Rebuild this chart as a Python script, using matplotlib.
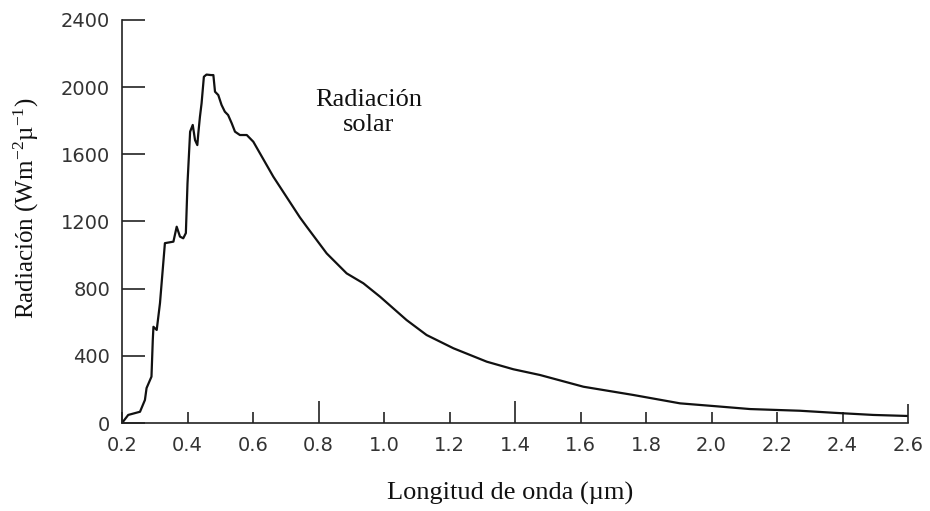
import matplotlib
matplotlib.use('Agg')
import matplotlib.pyplot as plt

# solar spectrum
wavelength = [0.200, 0.219, 0.255, 0.270, 0.275, 0.290, 0.294, 0.296, 0.306, 0.316,
              0.321, 0.331, 0.357, 0.367, 0.377, 0.387, 0.395, 0.400, 0.408, 0.416,
              0.423, 0.430, 0.433, 0.438, 0.443, 0.450, 0.458, 0.472, 0.479, 0.484,
              0.494, 0.504, 0.514, 0.524, 0.535, 0.545, 0.560, 0.581, 0.601, 0.662,
              0.743, 0.764, 0.825, 0.886, 0.937, 0.988, 1.069, 1.130, 1.212, 1.314,
              1.395, 1.476, 1.609, 1.761, 1.904, 2.006, 2.118, 2.270, 2.372, 2.494,
              2.596]
radiation = [0, 48, 67, 137, 208, 276, 494, 573, 554, 714,
             833, 1071, 1080, 1169, 1110, 1100, 1131, 1427, 1735, 1775,
             1685, 1655, 1725, 1824, 1904, 2062, 2075, 2072, 2072, 1973,
             1953, 1894, 1854, 1834, 1785, 1735, 1715, 1715, 1675, 1467,
             1225, 1169, 1010, 891, 832, 752, 613, 524, 445, 365,
             320, 286, 216, 167, 117, 101, 83, 73, 61, 48,
             42]

x_ticks = [0.2, 0.4, 0.6, 0.8, 1.0, 1.2, 1.4, 1.6, 1.8, 2.0, 2.2, 2.4, 2.6]
x_labels = ['0.2', '0.4', '0.6', '0.8', '1.0', '1.2', '1.4', '1.6', '1.8', '2.0', '2.2', '2.4', '2.6']
y_ticks = [0, 400, 800, 1200, 1600, 2000, 2400]

plt.rcParams['mathtext.default'] = 'regular'
serif = 'Liberation Serif'

fig = plt.figure(figsize=(9.3, 5.11), dpi=100)
ax = fig.add_axes([122/930, 1 - 423/511, 786/930, 403/511])

ax.plot(wavelength, radiation, color='#111111', lw=1.6)

ax.set_xlim(0.2, 2.6)
ax.set_ylim(0, 2400)
for s in ['top', 'right']:
    ax.spines[s].set_visible(False)
for s in ['left', 'bottom']:
    ax.spines[s].set_linewidth(1.2)
    ax.spines[s].set_color('#222222')

ax.set_xticks(x_ticks)
ax.set_xticklabels(x_labels)
ax.set_yticks(y_ticks)
ax.tick_params(axis='both', direction='in', colors='#222222', labelcolor='#333333',
               labelsize=14, width=1.2)
ax.tick_params(axis='x', length=8, pad=9)
ax.tick_params(axis='y', length=16.5, pad=8.5)

# longer ticks at 0.8, 1.4 and 2.6
for t, v in zip(ax.xaxis.get_major_ticks(), x_ticks):
    if v in (0.8, 1.4):
        t.tick1line.set_markersize(16)
    elif v == 2.6:
        t.tick1line.set_markersize(14)
# faint tick at 800
ax.yaxis.get_major_ticks()[2].tick1line.set_color('#c8c8c8')

ax.set_xlabel('Longitud de onda (µm)', family=serif, fontsize=19, va='center', color='#111111')
ax.xaxis.set_label_coords(0.494, -0.176)
ax.set_ylabel('Radiación (Wm$^{-2}$µ$^{-1}$)', family=serif, fontsize=18,
              va='center', ha='center', color='#111111')
ax.yaxis.set_label_coords(-0.122, 0.533)

ax.text(0.954, 1850, 'Radiación\nsolar', family=serif, fontsize=19, ha='center',
        va='center', linespacing=1.2, color='#111111')

plt.savefig('out.png', dpi=100)
